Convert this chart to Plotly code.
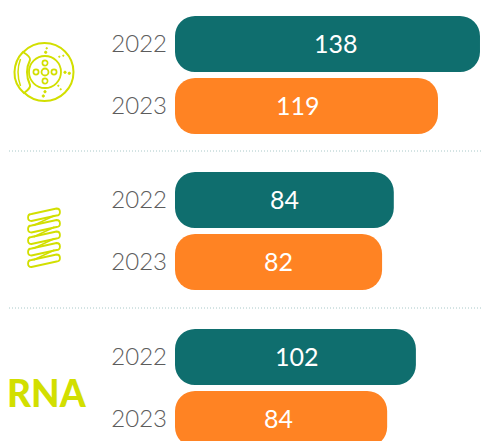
import plotly.graph_objects as go

years = ["2022", "2023"]
labels_top = [138, 119]
labels_mid = [84, 82]
labels_bot = [102, 84]
# Drawn bar lengths (not strictly proportional to the printed labels)
lengths_top = [138, 119]
lengths_mid = [99, 93.7]
lengths_bot = [109, 96]
# Horizontal nudge of each printed label from its bar centre, px
nudge_top = [9, -9]
nudge_mid = [0, 0]
nudge_bot = [2, -3]

W, H = 482, 441
TEAL, ORANGE, LIME = "#0f6e6e", "#ff8323", "#d2df00"
FONT = "Lato"

def px(x): return x / W
def py(y): return 1 - y / H

fig = go.Figure()
groups = [
    (lengths_top, labels_top, nudge_top, 13, 137),
    (lengths_mid, labels_mid, nudge_mid, 169, 293),
    (lengths_bot, labels_bot, nudge_bot, 326, 441),
]
for i, (vals, labs, nudges, top, bottom) in enumerate(groups):
    s = "" if i == 0 else str(i + 1)
    # An explicit base makes Plotly round both ends of the bar
    fig.add_trace(go.Bar(x=vals, base=[0, 0], y=years, orientation="h",
                         xaxis="x" + s, yaxis="y" + s,
                         marker=dict(color=[TEAL, ORANGE], line_width=0), showlegend=False))
    span = (bottom - top) / 62
    fig.update_layout({
        "xaxis" + s: dict(domain=[px(175), 1], range=[0, 307 / 2.21], visible=False,
                          anchor="y" + s, fixedrange=True),
        "yaxis" + s: dict(domain=[py(bottom), py(top)], type="category",
                          categoryorder="array", categoryarray=years,
                          range=[span - 0.5, -0.5], anchor="x" + s, showgrid=False,
                          showline=False, zeroline=False, ticks="", ticklabelstandoff=7,
                          tickfont=dict(family=FONT, size=24, color="#5c5c5c", weight=300)),
    })
    for k, (v, lab, n) in enumerate(zip(vals, labs, nudges)):
        fig.add_annotation(x=v / 2, y=k, xref="x" + s, yref="y" + s, text=str(lab), showarrow=False,
                           xshift=n, yshift=1, font=dict(family=FONT, size=25, color="white"))

shapes = []
for y in (151, 308):
    shapes.append(dict(type="line", xref="paper", yref="paper", x0=px(9), x1=1, y0=py(y), y1=py(y),
                       line=dict(color="#a8c8c8", width=1, dash="1px,2px")))

def circle(cx, cy, r, w=1.6, fill=None):
    shapes.append(dict(type="circle", xref="paper", yref="paper", x0=px(cx - r), x1=px(cx + r),
                       y0=py(cy + r), y1=py(cy - r), line=dict(color=LIME, width=w),
                       fillcolor=fill or "rgba(0,0,0,0)"))

def path(cmds, w=1.6, fill=None):
    out = []
    for c in cmds:
        out.append(c[0] + " ".join(f"{px(c[k]):.5f},{py(c[k + 1]):.5f}" for k in range(1, len(c), 2)))
    shapes.append(dict(type="path", xref="paper", yref="paper", path=" ".join(out),
                       line=dict(color=LIME, width=w), fillcolor=fill or "rgba(0,0,0,0)"))

# Brake disc icon
circle(44.5, 72, 29, 2)
circle(45, 72, 16, 1.8)
circle(45, 72, 3.5, 1.8)
for dx, dy in ((-9, 0), (9, 0), (0, -9), (0, 9)):
    circle(45 + dx, 72 + dy, 2.6, 1.7)
# caliper
path([("M", 23, 52), ("Q", 31, 57, 30, 60), ("Q", 24, 72, 30, 85), ("Q", 31, 88, 24, 93),
      ("Q", 14, 84, 14.5, 72), ("Q", 15, 60, 23, 52), ("Z",)], 2, "white")
path([("M", 20.5, 59), ("Q", 15.5, 72, 20.5, 86)], 1.5)
for x, y, r in ((45.7, 52.3, 1.2), (46.7, 48.3, 0.8), (59.3, 56.7, 0.7), (63.3, 55.7, 0.7),
                (65, 72.3, 1.2), (69.3, 73.3, 1.2), (58.3, 85.7, 0.7), (60.7, 89.3, 0.7),
                (45, 91.7, 1.2), (43.3, 96, 1.2)):
    circle(x, y, r, 0.8, LIME)

# Spring icon
coils = ((31.5, 217.5, 56.5, 212), (31.5, 229, 56.5, 223.5), (31.5, 240.5, 56.5, 235),
         (31.5, 252, 56.5, 246.5), (31.5, 263.5, 56.5, 258))
r = 3.5
for lx, ly, rx, ry in coils:
    path([("M", lx, ly - r), ("L", rx, ry - r), ("C", rx + 4.6, ry - r, rx + 4.6, ry + r, rx, ry + r),
          ("L", lx, ly + r), ("C", lx - 4.6, ly + r, lx - 4.6, ly - r, lx, ly - r), ("Z",)], 1.8)
for (l0, y0, r0, y1), (l1, y2, r1, y3) in zip(coils, coils[1:]):
    path([("M", r0 - 2, y1 + r), ("L", l1 + 2, y2 - r)], 1.5)

fig.add_annotation(x=px(46.5), y=py(392), xref="paper", yref="paper", text="RNA", showarrow=False,
                   xanchor="center", yanchor="middle",
                   font=dict(family=FONT, size=37, color=LIME, weight=900))

fig.update_layout(width=W, height=H, margin=dict(l=0, r=0, t=0, b=0), paper_bgcolor="white",
                  plot_bgcolor="white", barmode="overlay", bargap=6 / 62, barcornerradius=20, shapes=shapes)
fig.write_html("out.html", config=dict(displayModeBar=False),
               default_width=f"{W}px", default_height=f"{H}px",
               post_script="document.body.style.margin='0';document.documentElement.style.overflow='hidden';")
